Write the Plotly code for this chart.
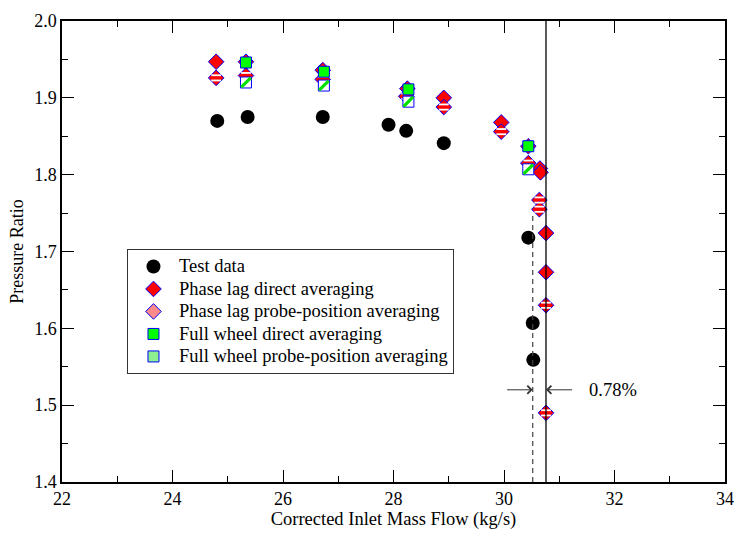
import plotly.graph_objects as go

# ---- data ----
test_x = [24.81, 25.36, 26.72, 27.91, 28.23, 28.91, 30.44, 30.52, 30.53]
test_y = [1.870, 1.875, 1.875, 1.865, 1.857, 1.841, 1.718, 1.607, 1.559]

pl_direct_x = [24.79, 25.33, 26.72, 28.25, 28.91, 29.95, 30.44, 30.65, 30.66, 30.76, 30.76]
pl_direct_y = [1.947, 1.947, 1.936, 1.912, 1.900, 1.868, 1.837, 1.808, 1.803, 1.724, 1.673]

pl_probe_x = [24.79, 25.33, 26.72, 28.23, 28.91, 29.95, 30.44, 30.64, 30.64, 30.76, 30.76]
pl_probe_y = [1.926, 1.929, 1.924, 1.902, 1.888, 1.856, 1.815, 1.767, 1.755, 1.630, 1.490]

fw_direct_x = [25.33, 26.74, 28.27, 30.44]
fw_direct_y = [1.946, 1.934, 1.911, 1.837]

fw_probe_x = [25.33, 26.74, 28.27, 30.44]
fw_probe_y = [1.920, 1.916, 1.895, 1.807]

# choke mass flow lines: test (dashed) and CFD (solid)
choke_test_x = [30.52, 30.52]
choke_test_y = [1.40, 1.75]
choke_cfd_x = [30.76, 30.76]
choke_cfd_y = [1.40, 2.00]

# arrow annotation
arrow_y = 1.52
arrow_left_from = 30.03
arrow_right_from = 31.26
label_x = 31.98
label_text = "0.78%"

x_range = [22, 34]
y_range = [1.4, 2.0]

series_names = [
    "Test data",
    "Phase lag direct averaging",
    "Phase lag probe-position averaging",
    "Full wheel direct averaging",
    "Full wheel probe-position averaging",
]

FONT = "Liberation Serif"
BLUE = "#0000ff"
RED = "#ff0000"
GREEN = "#00ff00"
TXT = 18.5


def lname(s):
    return '<span style="font-size:%.1fpx">%s</span>' % (TXT, s)


fig = go.Figure()

# Test data
fig.add_trace(go.Scatter(
    x=test_x, y=test_y, mode="markers", name=lname(series_names[0]), legendrank=1,
    marker=dict(symbol="circle", size=14, color="black", line=dict(width=0)),
))
# Phase lag direct
fig.add_trace(go.Scatter(
    x=pl_direct_x, y=pl_direct_y, mode="markers", name=lname(series_names[1]), legendrank=2,
    marker=dict(symbol="diamond", size=12, color=RED, line=dict(color=BLUE, width=1)),
))
# Phase lag probe-position: red diamond with white horizontal stripes
fig.add_trace(go.Scatter(
    x=pl_probe_x, y=pl_probe_y, mode="markers", showlegend=False,
    marker=dict(symbol="diamond", size=12, color=RED, line=dict(color=BLUE, width=1)),
))
for ang in (0, 180):
    fig.add_trace(go.Scatter(
        x=pl_probe_x, y=pl_probe_y, mode="markers", showlegend=False, hoverinfo="skip",
        marker=dict(symbol="line-ew", size=7, angle=ang, standoff=2.6,
                    line=dict(color="white", width=1.8)),
    ))
fig.add_trace(go.Scatter(
    x=[None], y=[None], mode="markers", name=lname(series_names[2]), legendrank=3,
    marker=dict(symbol="diamond", size=12, color="#ff8a8a", line=dict(color=BLUE, width=1)),
))
# Full wheel direct
fig.add_trace(go.Scatter(
    x=fw_direct_x, y=fw_direct_y, mode="markers", name=lname(series_names[3]), legendrank=4,
    marker=dict(symbol="square", size=11, color=GREEN, line=dict(color=BLUE, width=1)),
))
# Full wheel probe-position: white square with green diagonal stripes
fig.add_trace(go.Scatter(
    x=fw_probe_x, y=fw_probe_y, mode="markers", showlegend=False,
    marker=dict(symbol="square", size=11, color="white", line=dict(color=BLUE, width=1)),
))
fig.add_trace(go.Scatter(
    x=fw_probe_x, y=fw_probe_y, mode="markers", showlegend=False, hoverinfo="skip",
    marker=dict(symbol="line-ew", size=9.5, angle=135, line=dict(color="#00e000", width=3.2)),
))
fig.add_trace(go.Scatter(
    x=[None], y=[None], mode="markers", name=lname(series_names[4]), legendrank=5,
    marker=dict(symbol="square", size=11, color="#8ef08e", line=dict(color=BLUE, width=1)),
))

# choke lines
fig.add_trace(go.Scatter(
    x=choke_test_x, y=choke_test_y, mode="lines", showlegend=False, hoverinfo="skip",
    line=dict(color="#444444", width=1.2, dash="5px,4px"),
))
fig.add_trace(go.Scatter(
    x=choke_cfd_x, y=choke_cfd_y, mode="lines", showlegend=False, hoverinfo="skip",
    line=dict(color="#000000", width=1.3),
))

for x_from, x_to in [(arrow_left_from, choke_test_x[0]), (arrow_right_from, choke_cfd_x[0])]:
    fig.add_annotation(
        x=x_to, y=arrow_y, ax=x_from, ay=arrow_y, xref="x", yref="y", axref="x", ayref="y",
        text="", showarrow=True, arrowhead=4, arrowsize=1.6, arrowwidth=1, arrowcolor="#333333",
    )
fig.add_annotation(
    x=label_x, y=arrow_y, xref="x", yref="y", text=label_text, showarrow=False,
    font=dict(family=FONT, size=18.5, color="black"),
)

axis_common = dict(
    showgrid=False, zeroline=False, showline=True, linecolor="black", linewidth=1.5,
    mirror="allticks", ticks="inside", ticklen=12, tickwidth=1, tickcolor="black",
    tickfont=dict(family=FONT, size=18, color="black"),
)

fig.update_xaxes(
    range=x_range, dtick=2, tick0=22,
    minor=dict(dtick=1, ticklen=6, ticks="inside", tickcolor="black", tickwidth=1),
    title=dict(text="Corrected Inlet Mass Flow (kg/s)", font=dict(family=FONT, size=18.5, color="black"),
               standoff=2),
    **axis_common,
)
fig.update_yaxes(
    range=y_range, dtick=0.1, tick0=1.4, tickformat=".1f",
    minor=dict(dtick=0.05, ticklen=6, ticks="inside", tickcolor="black", tickwidth=1),
    title=dict(text="Pressure Ratio", font=dict(family=FONT, size=18, color="black"), standoff=6),
    **axis_common,
)

fig.update_layout(
    width=745, height=535,
    margin=dict(l=62, r=11, t=16, b=50),
    paper_bgcolor="white", plot_bgcolor="white",
    font=dict(family=FONT, color="black"),
    legend=dict(
        x=0.098, y=0.505, xanchor="left", yanchor="top",
        bgcolor="white", bordercolor="#333333", borderwidth=1,
        font=dict(family=FONT, size=15, color="black"),
        tracegroupgap=0, itemsizing="trace", itemwidth=41,
    ),
    showlegend=True,
)

fig.write_html("out.html")
